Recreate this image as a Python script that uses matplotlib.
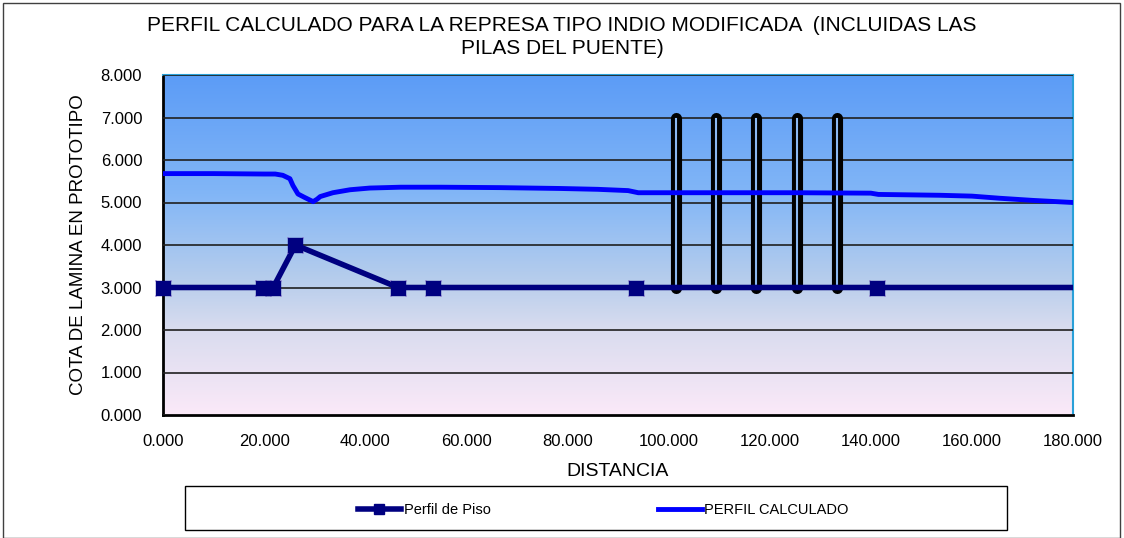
import numpy as np
import matplotlib.pyplot as plt
from matplotlib.colors import LinearSegmentedColormap
from matplotlib.patches import Rectangle

plt.rcParams['font.family'] = ['Liberation Sans', 'DejaVu Sans']

# Perfil de piso (distancia, cota)
piso_x = [0.0, 19.8, 21.8, 26.2, 46.5, 53.5, 93.5, 141.2, 180.0]
piso_y = [3.0, 3.0, 3.0, 4.0, 3.0, 3.0, 3.0, 3.0, 3.0]
piso_marca = [True, True, True, True, True, True, True, True, False]

# Perfil calculado
calc_x = [0.0, 10.0, 20.0, 22.2, 23.7, 25.1, 25.7, 26.7, 28.0, 29.7, 30.5, 31.1,
          33.6, 37.0, 40.9, 47.0, 55.0, 66.7, 78.5, 86.0, 92.0, 94.0, 110.0,
          125.0, 140.0, 141.5, 153.7, 160.0, 165.5, 172.0, 180.0]
calc_y = [5.68, 5.68, 5.67, 5.67, 5.64, 5.56, 5.40, 5.20, 5.12, 5.02, 5.08, 5.14,
          5.23, 5.30, 5.34, 5.36, 5.36, 5.35, 5.33, 5.31, 5.28, 5.23, 5.23,
          5.23, 5.22, 5.19, 5.17, 5.15, 5.10, 5.05, 5.00]

# Pilas del puente
pilas_x = [101.5, 109.4, 117.3, 125.5, 133.4]
pilas_base = 3.0
pilas_tope = 7.0

titulo = "PERFIL CALCULADO PARA LA REPRESA TIPO INDIO MODIFICADA  (INCLUIDAS LAS\nPILAS DEL PUENTE)"

fig = plt.figure(figsize=(11.24, 5.38), dpi=100)
ax = fig.add_axes([163/1124, 1-415/538, 910/1124, 340/538])

# fondo degradado
cmap = LinearSegmentedColormap.from_list('fondo', [
    (0.0, '#fbe9f8'), (0.25, '#d9dcef'), (0.4, '#b6cdec'),
    (0.65, '#82b6f7'), (1.0, '#5c9cf6')])
grad = np.linspace(0, 1, 256).reshape(-1, 1)
ax.imshow(grad, cmap=cmap, aspect='auto', origin='lower',
          extent=[0, 180, 0, 8], zorder=0)

ax.set_xlim(0, 180)
ax.set_ylim(0, 8)
ax.set_xticks(np.arange(0, 181, 20))
ax.set_yticks(np.arange(0, 8.1, 1))
ax.set_xticklabels([f"{v:.3f}" for v in np.arange(0, 181, 20)])
ax.set_yticklabels([f"{v:.3f}" for v in np.arange(0, 8.1, 1)])
ax.tick_params(length=0, labelsize=12)
ax.tick_params(axis='x', pad=14)
ax.tick_params(axis='y', pad=15)
ax.yaxis.grid(True, color='#202020', lw=1.2)
ax.set_axisbelow(False)
for s in ['left', 'bottom']:
    ax.spines[s].set_linewidth(2)
    ax.spines[s].set_color('black')
for s in ['top', 'right']:
    ax.spines[s].set_linewidth(1.5)
    ax.spines[s].set_color('#2aa0d8')

# pilas
for px in pilas_x:
    ax.plot([px, px], [pilas_base, pilas_tope], color='black', lw=8,
            solid_capstyle='round', zorder=4)
    ax.plot([px, px], [pilas_base + 0.04, pilas_tope - 0.04], color='#8ab7f0',
            lw=1.5, zorder=4.5)

# perfil de piso
ax.plot(piso_x, piso_y, color='#000080', lw=4, zorder=5)
mx = [x for x, m in zip(piso_x, piso_marca) if m]
my = [y for y, m in zip(piso_y, piso_marca) if m]
ax.plot(mx, my, 'x', color='#8060c0', ms=12, mew=1, zorder=5.5, clip_on=False)
ax.plot(mx, my, 's', color='#000080', ms=9.5, zorder=6, clip_on=False)

# perfil calculado
ax.plot(calc_x, calc_y, color='#0000ff', lw=3.5, zorder=5)

ax.set_xlabel("DISTANCIA", fontsize=14, labelpad=10)
ax.set_ylabel("COTA DE LAMINA EN PROTOTIPO", fontsize=13.5, labelpad=10)
fig.text(562/1124, 1-37/538, titulo, ha='center', va='center', fontsize=15,
         linespacing=1.25)

# leyenda
h1, = ax.plot([], [], color='#000080', lw=4, marker='s', ms=7)
h2, = ax.plot([], [], color='#0000ff', lw=3.5)
fig.patches.append(Rectangle((185/1124, 1-530/538), 822/1124, 44/538,
                             transform=fig.transFigure, fill=False,
                             ec='black', lw=1))
fig.legend([h1, h2], ["Perfil de Piso", "PERFIL CALCULADO"], ncol=2,
           loc='center', bbox_to_anchor=(603/1124, 1-510/538), frameon=False,
           fontsize=10.5, handlelength=3.0, handletextpad=0.15, columnspacing=11.5)

fig.patches.append(Rectangle((3/1124, 0), 1117/1124, 1-3/538,
                             transform=fig.transFigure, fill=False,
                             ec='#404040', lw=1))

fig.savefig('out.png', dpi=100)
